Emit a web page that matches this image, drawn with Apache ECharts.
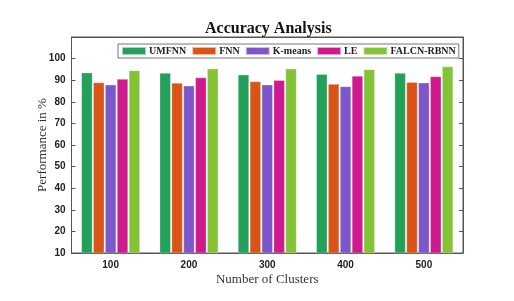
<!DOCTYPE html>
<html>
<head>
<meta charset="utf-8">
<script src="https://cdn.jsdelivr.net/npm/echarts@6/dist/echarts.min.js"></script>
<style>html,body{margin:0;padding:0;background:#fff;}#c{width:514px;height:301px;}</style>
</head>
<body>
<div id="c"></div>
<script>
const categories = ['100', '200', '300', '400', '500'];
const seriesNames = ['UMFNN', 'FNN', 'K-means', 'LE', 'FALCN-RBNN'];
const umfnn = [93.5, 93.3, 92.5, 92.8, 93.3];
const fnn = [88.9, 88.7, 89.4, 88.2, 89.1];
const kmeans = [87.9, 87.4, 87.9, 87.1, 88.8];
const le = [90.5, 91.2, 90.0, 92.0, 91.7];
const falcn = [94.5, 95.3, 95.3, 95.0, 96.3];
const yTicks = [10, 20, 30, 40, 50, 60, 70, 80, 90, 100];
const colors = ['#23A05A', '#DA5418', '#7D57C9', '#CE1A8C', '#84C236'];

const values = [umfnn, fnn, kmeans, le, falcn];
const chart = echarts.init(document.getElementById('c'));
const serif = '"Liberation Serif", "Times New Roman", serif';
const sans = '"Liberation Sans", Arial, sans-serif';
chart.setOption({
  animation: false,
  backgroundColor: '#fff',
  title: {
    text: 'Accuracy Analysis', left: 200, top: 16,
    textStyle: { fontFamily: serif, fontWeight: 'bold', fontSize: 16, color: '#111' }
  },
  legend: {
    data: seriesNames, left: 118, top: 44, itemWidth: 24, itemHeight: 8, itemGap: 5,
    padding: [2, 3, 2, 3], borderColor: '#777', borderWidth: 1, backgroundColor: '#fff',
    icon: 'rect',
    textStyle: { fontFamily: serif, fontWeight: 'bold', fontSize: 10, color: '#222', padding: [0, 0, 0, -2] }
  },
  grid: { left: 71.5, right: 51, top: 37, bottom: 48, show: true, borderColor: '#555', borderWidth: 1, backgroundColor: '#fff' },
  xAxis: [{
    type: 'category', data: categories,
    name: 'Number of Clusters', nameLocation: 'middle', nameGap: 20, nameMoveOverlap: false,
    nameTextStyle: { fontFamily: serif, fontSize: 13, color: '#333' },
    axisLine: { lineStyle: { color: '#555' } },
    axisTick: { inside: true, alignWithLabel: true, length: 4, lineStyle: { color: '#555' } },
    axisLabel: { fontFamily: sans, fontWeight: 'bold', fontSize: 10, color: '#222', margin: 7 }
  }, {
    type: 'category', data: categories, position: 'top',
    axisLine: { lineStyle: { color: '#555' } },
    axisTick: { inside: true, alignWithLabel: true, length: 4, lineStyle: { color: '#555' } },
    axisLabel: { show: false }
  }],
  yAxis: [{
    type: 'value', min: 10, max: 110, interval: 10,
    name: 'Performance in %', nameLocation: 'middle', nameGap: 22, nameMoveOverlap: false,
    nameTextStyle: { fontFamily: serif, fontSize: 13, color: '#333' },
    axisLine: { show: true, lineStyle: { color: '#555' } },
    axisTick: { show: true, inside: true, length: 4, lineStyle: { color: '#555' } },
    splitLine: { show: false },
    axisLabel: {
      fontFamily: sans, fontWeight: 'bold', fontSize: 10, color: '#222', margin: 6,
      formatter: v => yTicks.indexOf(v) >= 0 ? String(v) : ''
    }
  }, {
    type: 'value', min: 10, max: 110, interval: 10, position: 'right',
    axisLine: { show: true, lineStyle: { color: '#555' } },
    axisTick: { show: true, inside: true, length: 4, lineStyle: { color: '#555' } },
    splitLine: { show: false },
    axisLabel: { show: false }
  }],
  series: seriesNames.map((n, i) => ({
    name: n, type: 'bar', data: values[i], barWidth: 11, barGap: '8%',
    itemStyle: { color: colors[i], borderColor: 'rgba(255,255,255,0.6)', borderWidth: 0.5 }
  }))
});
</script>
</body>
</html>
